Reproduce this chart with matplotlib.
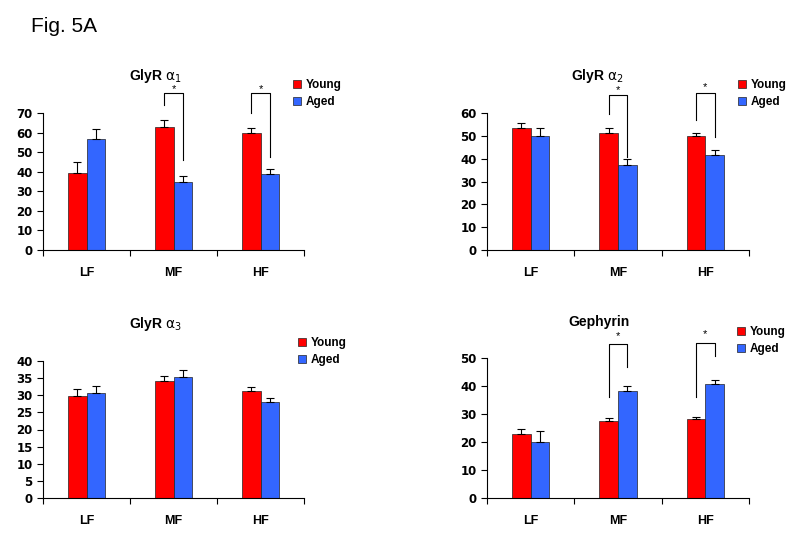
import matplotlib
matplotlib.use("Agg")
import matplotlib.pyplot as plt
from matplotlib.patches import Patch
import numpy as np

plt.rcParams['font.family'] = ['Liberation Sans', 'DejaVu Sans']
plt.rcParams['mathtext.fontset'] = 'dejavusans'

categories = ['LF', 'MF', 'HF']
series = ['Young', 'Aged']
colors = ['#ff0000', '#3366ff']

# GlyR alpha1
a1_young = [39.4, 63.0, 59.6]
a1_young_err = [5.8, 3.6, 2.6]
a1_aged = [56.6, 34.5, 38.9]
a1_aged_err = [5.4, 3.4, 2.6]
# GlyR alpha2
a2_young = [53.6, 51.4, 49.8]
a2_young_err = [2.2, 2.2, 1.6]
a2_aged = [50.1, 37.3, 41.4]
a2_aged_err = [3.3, 2.6, 2.4]
# GlyR alpha3
a3_young = [29.8, 34.1, 31.1]
a3_young_err = [1.9, 1.6, 1.4]
a3_aged = [30.6, 35.4, 27.9]
a3_aged_err = [2.1, 1.9, 1.4]
# Gephyrin
ge_young = [23.0, 27.5, 28.1]
ge_young_err = [1.8, 1.1, 0.7]
ge_aged = [20.1, 38.2, 40.6]
ge_aged_err = [3.8, 1.8, 1.7]

# significance brackets: (category index, top, left bottom, right bottom, star y)
a1_sig = [(1, 80.2, 74.2, 45.9, 82.0), (2, 80.2, 70.2, 47.6, 82.0)]
a2_sig = [(1, 68.0, 59.7, 40.8, 70.0), (2, 68.9, 56.8, 49.5, 71.2)]
ge_sig = [(1, 55.1, 36.1, 46.8, 58.0), (2, 55.5, 36.1, 50.6, 58.5)]

fig = plt.figure(figsize=(8.0, 5.36), dpi=100)

W = 0.213

def panel(rect, young, yerr_y, aged, yerr_a, ymax, ystep, title, title_xy, leg_xy, sig):
    ax = fig.add_axes(rect)
    x = np.arange(len(categories))
    for vals, errs, col, off in [(young, yerr_y, colors[0], -W / 2), (aged, yerr_a, colors[1], W / 2)]:
        ax.bar(x + off, vals, W, color=col, edgecolor='#222222', linewidth=0.5, zorder=2)
        ax.errorbar(x + off, vals, yerr=[np.zeros(len(errs)), errs], fmt='none',
                    ecolor='black', elinewidth=0.8, capsize=3, capthick=0.8, zorder=3)
    ax.set_xlim(-0.5, 2.5)
    ax.set_ylim(0, ymax)
    ax.set_yticks(np.arange(0, ymax + 0.1, ystep))
    ax.set_xticks([-0.5, 0.5, 1.5, 2.5])
    ax.set_xticklabels([])
    ax.set_xticks(x, minor=True)
    ax.set_xticklabels(categories, minor=True, fontweight='bold', fontsize=9)
    ax.tick_params(axis='x', which='major', direction='out', length=4, width=0.8)
    ax.tick_params(axis='x', which='minor', length=0, pad=12)
    ax.tick_params(axis='y', direction='out', length=4, width=0.8, pad=3.5)
    for lab in ax.get_yticklabels():
        lab.set_fontweight('bold')
        lab.set_fontfamily('DejaVu Sans')
        lab.set_fontsize(8.5)
    for s in ['top', 'right']:
        ax.spines[s].set_visible(False)
    for s in ['left', 'bottom']:
        ax.spines[s].set_linewidth(0.8)
    for (ci, top, lb, rb, sy) in sig:
        xl, xr = ci - W / 2, ci + W / 2
        ax.plot([xl, xl, xr, xr], [lb, top, top, rb], color='black', lw=0.8,
                clip_on=False, zorder=4)
        ax.text(ci, sy, '*', ha='center', va='center', fontsize=8, clip_on=False)
    fig.text(title_xy[0], title_xy[1], title, ha='center', va='center',
             fontsize=10, fontweight='bold')
    handles = [Patch(facecolor=c, edgecolor='#222222', linewidth=0.5) for c in colors]
    fig.legend(handles, series, loc='upper left', bbox_to_anchor=leg_xy,
               frameon=False, prop={'weight': 'bold', 'size': 8.5},
               handlelength=0.7, handleheight=0.7, handletextpad=0.4,
               labelspacing=0.45, borderpad=0, borderaxespad=0)
    return ax

H = 800.0
V = 536.0
def fx(p):
    return p / H
def fy(p):
    return 1 - p / V

panel([fx(43), fy(250), fx(304 - 43), (250 - 113) / V], a1_young, a1_young_err, a1_aged, a1_aged_err,
      70, 10, r'GlyR $\mathrm{\alpha}_{1}$', (fx(155), fy(76)), (fx(293), fy(79)), a1_sig)
panel([fx(487), fy(250), fx(749 - 487), (250 - 113) / V], a2_young, a2_young_err, a2_aged, a2_aged_err,
      60, 10, r'GlyR $\mathrm{\alpha}_{2}$', (fx(597), fy(75.5)), (fx(738), fy(79)), a2_sig)
panel([fx(43), fy(498), fx(304 - 43), (498 - 361) / V], a3_young, a3_young_err, a3_aged, a3_aged_err,
      40, 5, r'GlyR $\mathrm{\alpha}_{3}$', (fx(155), fy(324)), (fx(298), fy(337)), [])
panel([fx(487), fy(498), fx(749 - 487), (498 - 358) / V], ge_young, ge_young_err, ge_aged, ge_aged_err,
      50, 10, 'Gephyrin', (fx(599), fy(322)), (fx(737), fy(326)), ge_sig)

fig.text(fx(31), fy(26), 'Fig. 5A', ha='left', va='center', fontsize=15)

fig.savefig('out.png', dpi=100)
